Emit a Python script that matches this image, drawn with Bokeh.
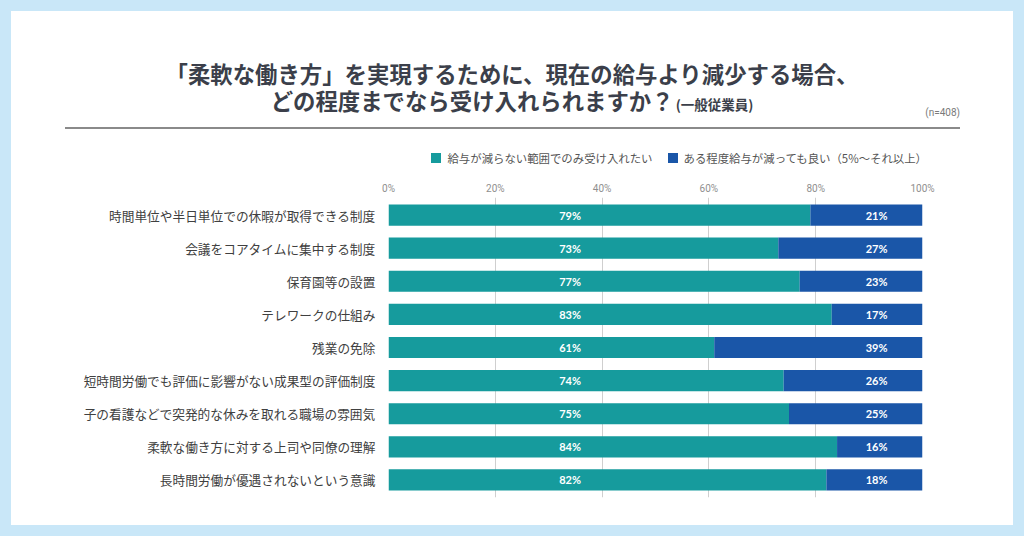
from bokeh.plotting import figure
from bokeh.models import ColumnDataSource, FactorRange, Range1d, FixedTicker, Div
from bokeh.layouts import column
from bokeh.core.properties import value
from bokeh.embed import file_html
from bokeh.resources import INLINE

# ---- data ----
categories = [
    "時間単位や半日単位での休暇が取得できる制度",
    "会議をコアタイムに集中する制度",
    "保育園等の設置",
    "テレワークの仕組み",
    "残業の免除",
    "短時間労働でも評価に影響がない成果型の評価制度",
    "子の看護などで突発的な休みを取れる職場の雰囲気",
    "柔軟な働き方に対する上司や同僚の理解",
    "長時間労働が優遇されないという意識",
]
no_cut_only = [79, 73, 77, 83, 61, 74, 75, 84, 82]
some_cut_ok = [21, 27, 23, 17, 39, 26, 25, 16, 18]
series_names = ["給与が減らない範囲でのみ受け入れたい", "ある程度給与が減っても良い（5%〜それ以上）"]
x_ticks = [0, 20, 40, 60, 80, 100]
x_tick_labels = ["0%", "20%", "40%", "60%", "80%", "100%"]

title_line1 = "「柔軟な働き方」を実現するために、現在の給与より減少する場合、"
title_line2 = "どの程度までなら受け入れられますか？"
title_sub = "(一般従業員)"
sample_note = "(n=408)"

# ---- style ----
TEAL = "#169b9d"
BLUE = "#1a56a8"
BG = "#c9e7f8"
TITLE_C = "#3b3f4a"
JP = "Noto Sans CJK JP"
LABEL_X_A = 34.0
LABEL_X_B = 91.4
series_colors = [TEAL, BLUE]

totals = [a + b for a, b in zip(no_cut_only, some_cut_ok)]
src = ColumnDataSource(dict(
    cat=categories, a=no_cut_only, b=some_cut_ok, ab=totals,
    a_lbl=[f"{v}%" for v in no_cut_only], b_lbl=[f"{v}%" for v in some_cut_ok],
    ax=[LABEL_X_A] * len(categories), bx=[LABEL_X_B] * len(categories),
))

# ---- header (title block + legend) ----
legend_items = "".join(
    f'<span style="display:inline-block;width:10px;height:10px;background:{c};'
    f'margin-left:{15 if i else 0}px;margin-right:6px;"></span>'
    f'<span style="white-space:nowrap;">{n}</span>'
    for i, (n, c) in enumerate(zip(series_names, series_colors))
)
header_html = f"""
<div style="position:relative;width:1002px;height:161px;font-family:'{JP}';color:{TITLE_C};background:white;">
  <div style="position:absolute;left:0;top:48.5px;width:1002px;text-align:center;
              font-size:22.4px;font-weight:bold;line-height:27px;white-space:nowrap;">{title_line1}<br>{title_line2}<span
       style="font-size:13.5px;margin-left:2px;">{title_sub}</span></div>
  <div style="position:absolute;right:53px;top:96px;font-family:Roboto;font-size:10px;
              line-height:12px;color:#7a7a7a;">{sample_note}</div>
  <div style="position:absolute;left:54px;top:116px;width:895px;height:1.5px;background:#8a8a8a;"></div>
  <div style="position:absolute;right:86px;top:140px;height:14px;display:flex;align-items:center;
              font-size:11.4px;line-height:14px;color:#555555;">{legend_items}</div>
</div>
"""
header = Div(text=header_html, width=1002, height=161, margin=0,
             styles={"background-color": "white"})

# ---- chart ----
p = figure(width=1002, height=353,
           y_range=FactorRange(factors=categories[::-1], range_padding=0.06 / 9),
           x_range=Range1d(0, 100), x_axis_location="above",
           output_backend="svg", toolbar_location=None,
           min_border_left=377, min_border_right=91,
           min_border_top=25, min_border_bottom=28)
p.background_fill_color = "white"
p.border_fill_color = "white"
p.outline_line_color = None

p.hbar(y="cat", left=0, right="a", height=0.64, fill_color=TEAL,
       line_color=None, source=src)
p.hbar(y="cat", left="a", right="ab", height=0.64, fill_color=BLUE,
       line_color=None, source=src)

common = dict(text_color="white", text_font=value("Lato"), text_font_style="bold",
              text_font_size="11px", text_align="center", text_baseline="middle",
              source=src)
p.text(x="ax", y="cat", text="a_lbl", **common)
p.text(x="bx", y="cat", text="b_lbl", **common)

xa = p.xaxis[0]
xa.ticker = FixedTicker(ticks=x_ticks)
xa.major_label_overrides = {t: l for t, l in zip(x_ticks, x_tick_labels)}
xa.axis_line_color = None
xa.major_tick_line_color = None
xa.minor_tick_line_color = None
xa.major_tick_out = 0
xa.major_tick_in = 0
xa.minor_tick_out = 0
xa.major_label_text_font_size = "10px"
xa.major_label_text_color = "#8f8f8f"
xa.major_label_text_font = "Roboto"
xa.major_label_standoff = 4

ya = p.yaxis[0]
ya.axis_line_color = None
ya.major_tick_line_color = None
ya.minor_tick_line_color = None
ya.major_tick_out = 0
ya.major_tick_in = 0
ya.minor_tick_out = 0
ya.major_label_standoff = 13
ya.major_label_text_font_size = "12.7px"
ya.major_label_text_color = "#404040"
ya.major_label_text_font = JP

p.ygrid.grid_line_color = None
p.xgrid.grid_line_color = "#cfcfcf"
p.xgrid.grid_line_width = 1

layout = column(header, p, margin=11, spacing=0,
                styles={"background-color": "white"})

html = file_html(layout, INLINE)
html = html.replace("</head>", "<style>html,body{background:%s;}</style></head>" % BG, 1)
open("out.html", "w").write(html)
